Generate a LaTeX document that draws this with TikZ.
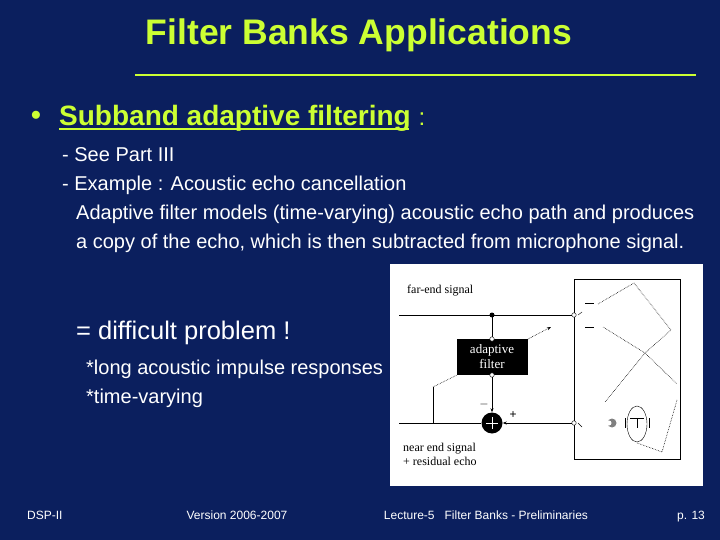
\documentclass[tikz,border=0pt]{standalone}
\usepackage{fontspec}
\setmainfont{Liberation Sans}
\newfontfamily\figfont{Liberation Serif}
\usetikzlibrary{arrows.meta}
\definecolor{bg}{HTML}{0B1F5E}
\definecolor{ttl}{HTML}{CCFF33}
\begin{document}
\begin{tikzpicture}[x=1pt,y=-1pt,
  body/.style={anchor=west,text=white,font=\fontsize{20}{24}\selectfont,inner sep=0},
  foot/.style={text=white,font=\fontsize{12}{14}\selectfont,inner sep=0},
  fig/.style={font=\fontsize{12}{14}\figfont,inner sep=0},
  port/.style={circle,draw,fill=white,inner sep=0,minimum size=4.5pt},
  wire/.style={line width=0.7pt},
  dots/.style={densely dotted,line width=0.6pt}]
\fill[bg] (0,0) rectangle (720,540);
\useasboundingbox (0,0) rectangle (720,540);
\node[text=ttl,font=\fontsize{35.5}{40}\selectfont\bfseries] (title) at (359,35) {Filter Banks Applications};
\draw[ttl,line width=2.5pt] (135,75) -- (696,75);
\node[anchor=west,text=ttl,font=\fontsize{28}{30}\selectfont\bfseries,inner sep=0] (bul) at (31,118) {•};
\node[anchor=west,text=ttl,font=\fontsize{28}{30}\selectfont\bfseries,inner sep=0] (b1) at (59,118) {Subband adaptive filtering\ \mdseries\fontsize{24}{26}\selectfont:};
\draw[ttl,line width=1.6pt] (59,129) -- (409,129);
\node[body] (l1) at (62,155) {- See Part III};
\node[body] (l2) at (62,185) {- Example : Acoustic echo cancellation};
\node[body] (l3) at (76,214) {Adaptive filter models (time-varying) acoustic echo path and produces};
\node[body] (l4) at (76,243) {a copy of the echo, which is then subtracted from microphone signal.};
\node[body,font=\fontsize{25.5}{30}\selectfont] (l5) at (76,333) {= difficult problem !};
\node[body] (l6) at (86,369) {*long acoustic impulse responses};
\node[body] (l7) at (86,398) {*time-varying};
% figure
\fill[white] (390,264) rectangle (703,486);
\draw[line width=0.8pt] (574,279) rectangle (680,459);
\node[fig,anchor=west] (far) at (407,291) {far-end signal};
\node[fig,anchor=west,align=left] (near) at (403,454) {near end signal\\+ residual echo};
\node[fill=black,text=white,font=\fontsize{13}{15}\figfont,minimum width=71pt,minimum height=36pt,align=center] (af) at (492,357) {adaptive\\filter};
\node[circle,fill=black,minimum size=21pt,inner sep=0] (sum) at (492,423) {};
\draw[white,line width=1pt] (sum.center) ++(-6,0) -- ++(12,0) (sum.center) ++(0,-6) -- ++(0,12);
\coordinate (fl) at (399,315);
\coordinate (nl) at (399,423);
\node[port] (pf) at (574,315) {};
\node[port] (pn) at (574,423) {};
\fill (492,315) circle (2.5pt) coordinate (junc);
\draw[wire] (fl) -- (pf);
\draw[wire] (junc) -- (af.north);
\node[port] (at) at (492,339) {};
\node[port] (ab) at (492,375) {};
\draw[wire,-{Stealth[length=4pt]}] (ab) -- (sum.north);
\draw[wire] (nl) -- (sum.west);
\draw[wire,-{Stealth[length=4pt]}] (pn) -- (sum.east);
\draw[wire] (433,423) -- (433,387);
\draw[dots] (433,387) -- (457,375);
\draw[dots,-{Stealth[length=4pt]}] (528,339) -- (551,327);
\node[fig,font=\fontsize{13}{14}\selectfont] (mn) at (484,404) {$-$};
\node[fig,font=\fontsize{12}{14}\selectfont] (pl) at (513,415) {+};
\draw (578,315) -- (582,312) (578,423) -- (582,427);
% room
\draw (585,303) -- (594,303) (585,327) -- (594,327);
\draw[dots] (598,304) -- (634,283) -- (671,330) -- (645,353) -- (603,327);
\draw[dots] (645,353) -- (605,402);
\draw[dots] (645,353) -- (677,384);
\draw[dots] (677,400) -- (662,452) -- (637,443);
\fill[gray] (612,423) circle (4.5pt);
\fill[white] (609,423) circle (2.5pt);
\draw (637,424) ellipse (10pt and 18pt);
\draw (630,418) -- (644,418) (637,418) -- (637,428);
\draw (625,418) -- (625,428) (649,418) -- (649,428);
% footer
\node[foot,anchor=west] (f1) at (27,515) {DSP-II};
\node[foot] (f2) at (237,515) {Version 2006-2007};
\node[foot] (f3) at (486,515) {Lecture-5\ \ \ Filter Banks - Preliminaries};
\node[foot] (f4) at (691,517) {p. 13};
\end{tikzpicture}
\end{document}
